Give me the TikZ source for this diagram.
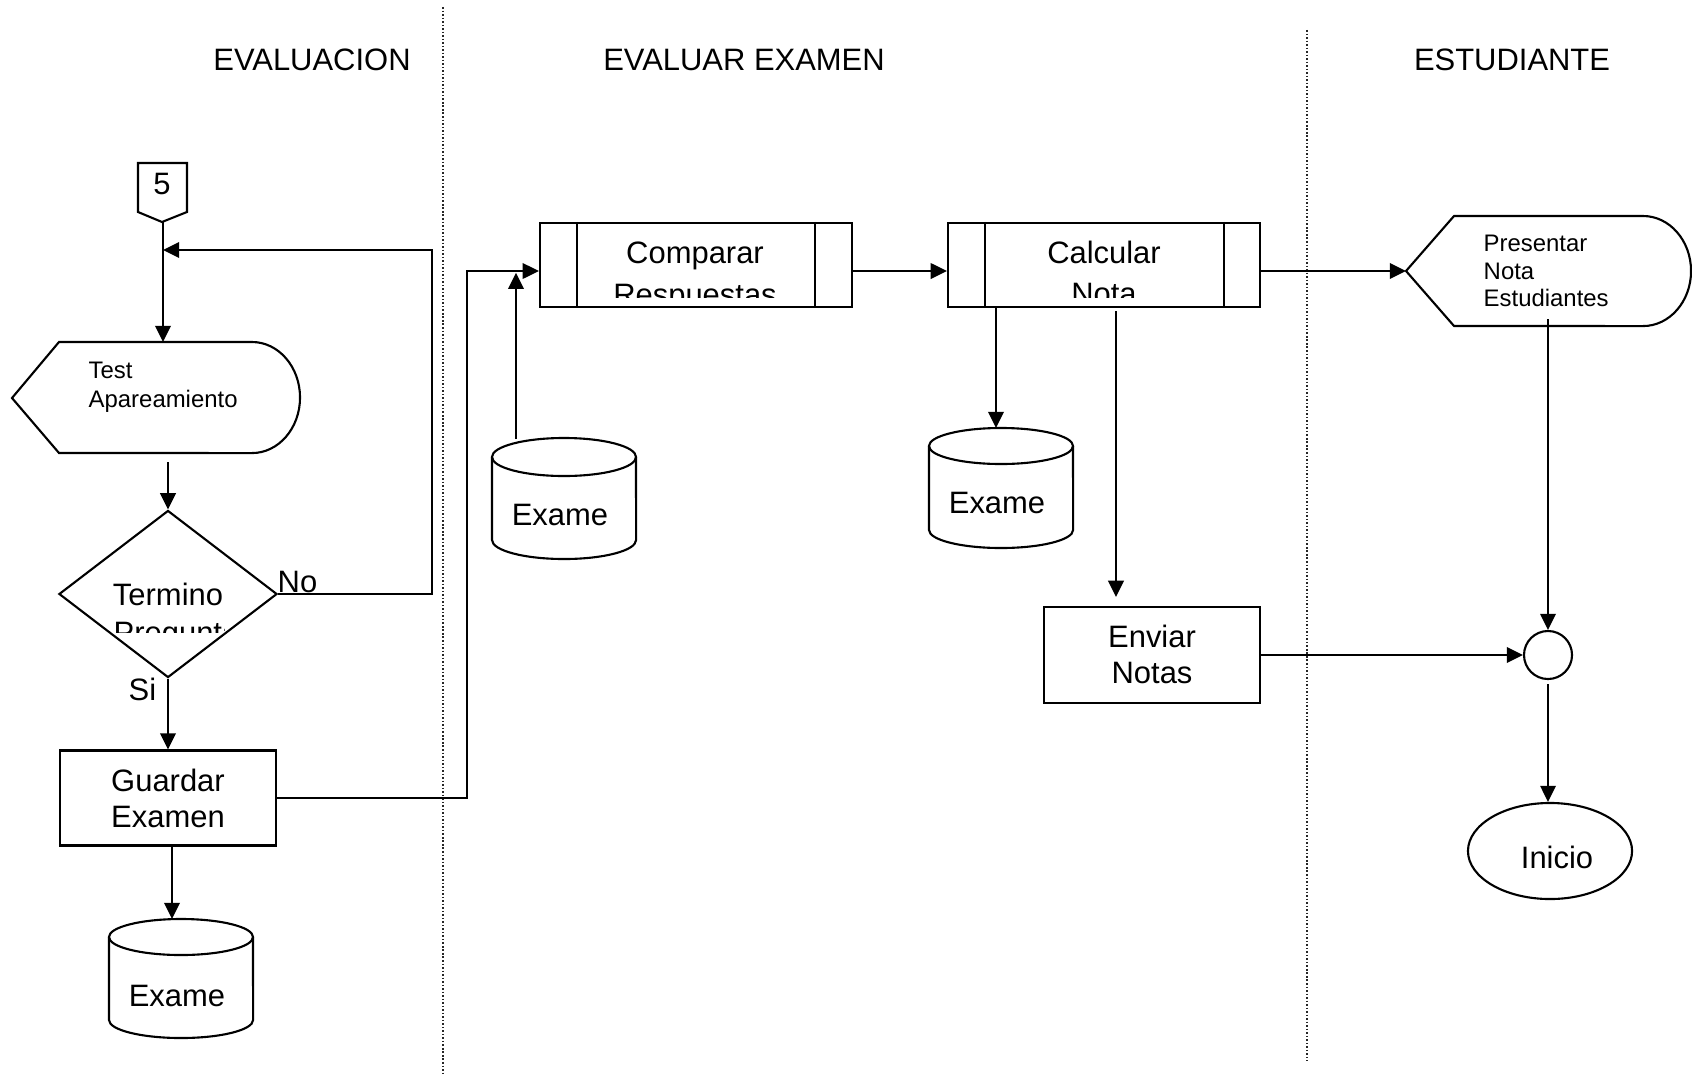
\documentclass[tikz,border=0pt]{standalone}
\usepackage{fontspec}
\setmainfont{Liberation Sans}
\usetikzlibrary{arrows.meta,shapes.geometric,calc}
\begin{document}
\begin{tikzpicture}[x=0.01cm, y=-0.01cm,
  ln/.style={line width=0.6pt},
  arr/.style={ln, -{Triangle[length=4.6pt,width=4.4pt]}},
  divider/.style={line width=0.45pt, dash pattern=on 0.45pt off 0.55pt, black!85},
  big/.style={font=\fontsize{8.8}{10}\selectfont, inner sep=0},
  small/.style={font=\fontsize{6.8}{7.8}\selectfont, inner sep=0},
  procbox/.style={draw, ln, inner sep=0, minimum width=3.12cm, minimum height=0.84cm},
  stepbox/.style={draw, ln, inner sep=0, minimum width=2.16cm},
]
\useasboundingbox (0,0) rectangle (1692,1076);
\fill[white] (0,0) rectangle (1692,1076);

% lane dividers
\draw[divider] (443,7) -- (443,1076);
\draw[divider] (1307,30) -- (1307,1061);

% titles
\node[big, anchor=base] (t1) at (312,71) {EVALUACION};
\node[big, anchor=base] (t2) at (744,71) {EVALUAR EXAMEN};
\node[big, anchor=base] (t3) at (1512,71) {ESTUDIANTE};

% off-page connector 5
\draw[ln] (138,163) -- (187,163) -- (187,212) -- (162,222) -- (138,212) -- cycle;
\node[big, anchor=base] (c5) at (162,195) {5};
\coordinate (c5out) at (163,222);

% display: Test Apareamiento
\draw[ln] (12,398) -- (59,342) -- (252,342) arc[start angle=90, end angle=-90, x radius=0.48cm, y radius=0.555cm] -- (59,453) -- cycle;
\node[small, anchor=base west] (testl1) at (88,378) {Test};
\node[small, anchor=base west] (testl2) at (88,407) {Apareamiento};
\coordinate (testin) at (163,342);
\coordinate (testout) at (168,462);
\coordinate (j1) at (163,250);
\coordinate (loopc) at (432,250);

% decision
\node[draw, ln, diamond, inner sep=0, minimum width=2.18cm, minimum height=1.67cm] (dia) at (168,594) {};
\node[big, anchor=base] (dial1) at (168,605) {Termino};
\begin{scope}
  \clip (100,560) rectangle (224,632);
  \node[big, anchor=base west] (dial2) at (113,643) {Preguntas};
\end{scope}
\node[big, anchor=base west] (no) at (277,592) {No};
\node[big, anchor=base west] (si) at (128,700) {Si};

% Guardar Examen
\node[stepbox, minimum height=0.95cm] (guard) at (168,798) {};
\node[big, anchor=base] (guardl1) at (168,791) {Guardar};
\node[big, anchor=base] (guardl2) at (168,827) {Examen};

% store 1
\draw[ln] (109,937) -- (109,1020) arc[start angle=180, end angle=360, x radius=0.72cm, y radius=0.18cm] -- (253,937);
\draw[ln] (181,937) ellipse [x radius=0.72cm, y radius=0.18cm];
\node[big, anchor=base] (cyl1t) at (177,1006) {Exame};
\coordinate (cyl1top) at (172,919);

% Comparar Respuestas
\node[procbox] (cmp) at (696,265) {};
\draw[ln] ($(cmp.north west)+(38,0)$) -- ($(cmp.south west)+(38,0)$);
\draw[ln] ($(cmp.north east)+(-38,0)$) -- ($(cmp.south east)+(-38,0)$);
\node[big, anchor=base] (cmpl1) at (695,263) {Comparar};
\begin{scope}
  \clip (579,224) rectangle (813,297);
  \node[big, anchor=base] (cmpl2) at (695,305) {Respuestas};
\end{scope}

% store 2
\draw[ln] (492,457) -- (492,540) arc[start angle=180, end angle=360, x radius=0.72cm, y radius=0.19cm] -- (636,457);
\draw[ln] (564,457) ellipse [x radius=0.72cm, y radius=0.19cm];
\node[big, anchor=base] (cyl2t) at (560,525) {Exame};
\coordinate (cyl2top) at (516,439);
\coordinate (j2) at (516,271);
\coordinate (gc) at (467,271);

% Calcular Nota
\node[procbox] (calc) at (1104,265) {};
\draw[ln] ($(calc.north west)+(38,0)$) -- ($(calc.south west)+(38,0)$);
\draw[ln] ($(calc.north east)+(-37,0)$) -- ($(calc.south east)+(-37,0)$);
\node[big, anchor=base] (calcl1) at (1104,263) {Calcular};
\begin{scope}
  \clip (987,224) rectangle (1222,297);
  \node[big, anchor=base] (calcl2) at (1104,304) {Nota};
\end{scope}

% store 3
\draw[ln] (929,446) -- (929,530) arc[start angle=180, end angle=360, x radius=0.72cm, y radius=0.18cm] -- (1073,446);
\draw[ln] (1001,446) ellipse [x radius=0.72cm, y radius=0.18cm];
\node[big, anchor=base] (cyl3t) at (997,513) {Exame};
\coordinate (cyl3top) at (996,428);

% Enviar Notas
\node[stepbox, minimum height=0.96cm] (env) at (1152,655) {};
\node[big, anchor=base] (envl1) at (1152,647) {Enviar};
\node[big, anchor=base] (envl2) at (1152,683) {Notas};

% display: Presentar Nota Estudiantes
\draw[ln] (1406,271) -- (1454,216) -- (1643,216) arc[start angle=90, end angle=-90, x radius=0.48cm, y radius=0.55cm] -- (1454,326) -- cycle;
\node[small, anchor=base west] (presl1) at (1483,251) {Presentar};
\node[small, anchor=base west] (presl2) at (1483,279) {Nota};
\node[small, anchor=base west] (presl3) at (1483,306) {Estudiantes};
\coordinate (presin) at (1406,271);
\coordinate (presout) at (1548,319);

% connector circle and terminator
\node[draw, ln, circle, inner sep=0, minimum size=0.48cm] (circ) at (1548,655) {};
\node[draw, ln, ellipse, inner sep=0, minimum width=1.64cm, minimum height=0.96cm] (ini) at (1550,851) {};
\node[big, anchor=base] (init) at (1557,868) {Inicio};

% connectors
\draw[ln] (c5out) -- (j1);
\draw[arr] (j1) -- (testin);
\draw[arr] (testout) -- (testout |- dia.north);
\draw[arr] (dia.east) -| (loopc) -- (j1);
\draw[arr] (dia.south) -- (guard.north);
\draw[arr] (guard.south -| cyl1top) -- (cyl1top);
\draw[arr] (guard.east) -| (gc) -- ($(cmp.west)+(0,6)$);
\draw[arr, shorten >=0.5pt] (cyl2top) -- (j2);
\draw[arr] ($(cmp.east)+(0,6)$) -- ($(calc.west)+(0,6)$);
\draw[arr] (cyl3top |- calc.south) -- (cyl3top);
\draw[arr] ($(calc.south)+(12,3)$) -- ($(env.north)+(-36,-9)$);
\draw[arr] ($(calc.east)+(0,6)$) -- (presin);
\draw[arr] (presout) -- (circ.north);
\draw[arr] (env.east) -- (circ.west);
\draw[arr] ($(circ.south)+(0,4)$) -- (circ.south |- ini.north);
\end{tikzpicture}
\end{document}
